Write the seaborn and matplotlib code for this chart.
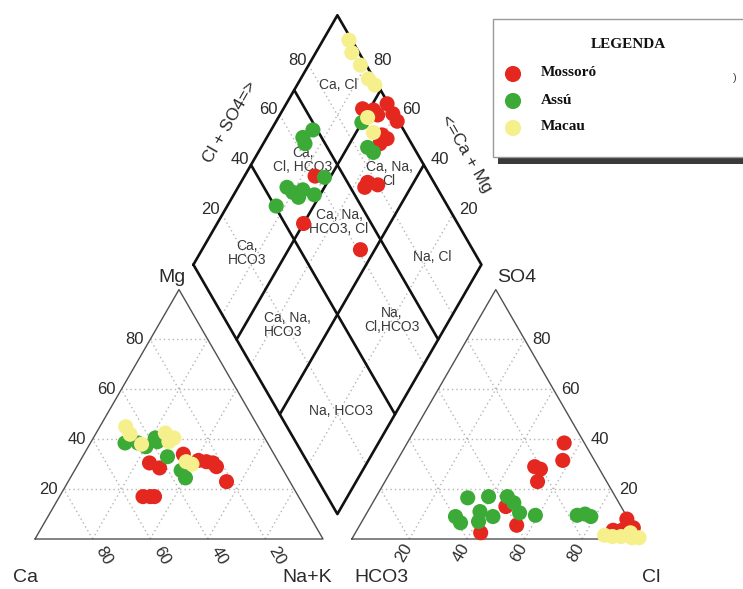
import numpy as np
import pandas as pd
import matplotlib
matplotlib.use("Agg")
import matplotlib.pyplot as plt
import seaborn as sns
from matplotlib.patches import Rectangle

sns.set_theme(style="white")
plt.rcParams["font.family"] = ["Liberation Sans", "DejaVu Sans"]

# ---------------- data (percentages) ----------------
SERIES = ["Mossoró", "Assú", "Macau"]
COLORS = {"Mossoró": "#e4281f", "Assú": "#3caa36", "Macau": "#f5f08c"}

# cation triangle: (Mg %, Na+K %)
cation_mossoro = [(30.5, 24.5), (28.5, 29), (34, 34.5), (31.5, 41), (31, 44), (30.5, 46.5),
                  (29, 48.5), (23, 55), (17, 29), (17, 31.5), (17, 33)]
cation_assu = [(38.5, 12), (38.5, 16.5), (37, 20), (40.5, 21.5), (39, 23), (33, 29.5),
               (27.5, 37), (24.5, 40)]
cation_macau = [(45, 9), (42, 12), (38, 18), (42.5, 24), (39, 27), (40.5, 28), (31, 37), (30, 39.5)]

# anion triangle: (SO4 %, Cl %)
anion_mossoro = [(38.5, 54.5), (31.5, 57.5), (29, 49), (28, 51.5), (23, 53), (13, 47), (5.5, 54.5),
                 (2.5, 43.5), (8, 91.5), (3.5, 89), (3.5, 92), (4.5, 95.5)]
anion_assu = [(16.5, 32), (17, 39), (17, 45.5), (14.5, 49), (10.5, 53), (9.5, 59), (11, 39),
              (7, 40.5), (9, 44.5), (9, 31.5), (6.5, 34.5), (9.5, 73.5), (9, 78.5), (10, 76)]
anion_macau = [(1.5, 87), (1, 90), (2.5, 95.5), (0.5, 99.5), (0.5, 97), (1, 93)]

# diamond: (Na+K %, Cl+SO4 %)
diamond_mossoro = [(27.5, 90), (31.5, 93.5), (34, 94), (35, 99.5), (39, 99.5), (42, 99.5),
                   (39.5, 91.5), (42, 92.5), (40.5, 89), (44, 77), (48, 80), (44, 75),
                   (24.5, 60), (30, 46.5), (55, 61)]
diamond_assu = [(30, 87), (37, 84), (40, 85), (12.5, 63.5), (14.5, 68.5), (14.5, 63), (17, 48),
                (20, 49), (23, 53), (23, 50), (28, 56), (28, 63), (17, 40.5)]
diamond_macau = [(9, 99), (12.5, 97.5), (18, 98), (23.5, 98), (27, 99), (31, 90), (36, 89)]

TICKS = [20, 40, 60, 80]
DIAMOND_SPLITS_NA = [30, 60]
DIAMOND_SPLITS_ANION = [40, 70]
REGIONS = [
    ("Ca, Cl", (338, 85), "center"),
    ("Ca,\nCl, HCO3", (303, 160), "center"),
    ("Ca, Na,\nCl", (389, 174), "center"),
    ("Ca,\nHCO3", (247, 253), "center"),
    ("Ca, Na,\nHCO3, Cl", (339, 222), "center"),
    ("Na, Cl", (432, 257), "center"),
    ("Ca, Na,\nHCO3", (287, 325), "left"),
    ("Na,\nCl,HCO3", (392, 320), "center"),
    ("Na, HCO3", (341, 411), "center"),
]

# ---------------- geometry ----------------
SQ = np.sqrt(3) / 2
GAP = 0.1

def cation_xy(mg, na):
    return na / 100 + 0.5 * mg / 100, SQ * mg / 100

def anion_xy(so4, cl):
    return 1 + GAP + cl / 100 + 0.5 * so4 / 100, SQ * so4 / 100

def diamond_xy(na, an):
    return (na / 100 + 1 + GAP + an / 100) / 2, (1 + GAP + an / 100 - na / 100) * SQ

fig = plt.figure(figsize=(7.43, 5.89), dpi=100)
ax = fig.add_axes([0, 0, 1, 1])
X0, Y0, S = 35.0, 539.0, 288.0

def pix(xp, yp):
    return (xp - X0) / S, (Y0 - yp) / S

def off(p, dx, dy):
    return p[0] + dx / S, p[1] - dy / S

def seg(p, q, **kw):
    ax.plot([p[0], q[0]], [p[1], q[1]], **kw)

DOT = dict(color="#b5b5b5", lw=1.0, ls=(0, (1, 2.2)), zorder=1)
EDGE = dict(color="#505050", lw=1.0, zorder=2, solid_capstyle="round")
THICK = dict(color="#111111", lw=1.9, zorder=2, solid_capstyle="round")

# dotted grids
for k in TICKS:
    seg(cation_xy(k, 0), cation_xy(k, 100 - k), **DOT)
    seg(cation_xy(0, k), cation_xy(100 - k, k), **DOT)
    seg(cation_xy(0, 100 - k), cation_xy(100 - k, 0), **DOT)
    seg(anion_xy(k, 0), anion_xy(k, 100 - k), **DOT)
    seg(anion_xy(0, k), anion_xy(100 - k, k), **DOT)
    seg(anion_xy(0, 100 - k), anion_xy(100 - k, 0), **DOT)
    seg(diamond_xy(k, 0), diamond_xy(k, 100), **DOT)
    seg(diamond_xy(0, k), diamond_xy(100, k), **DOT)

# triangle outlines
ct = [cation_xy(0, 0), cation_xy(0, 100), cation_xy(100, 0), cation_xy(0, 0)]
at = [anion_xy(0, 0), anion_xy(0, 100), anion_xy(100, 0), anion_xy(0, 0)]
ax.plot([p[0] for p in ct], [p[1] for p in ct], **EDGE)
ax.plot([p[0] for p in at], [p[1] for p in at], **EDGE)

# diamond outline and classification lines
dm = [diamond_xy(0, 0), diamond_xy(100, 0), diamond_xy(100, 100), diamond_xy(0, 100), diamond_xy(0, 0)]
ax.plot([p[0] for p in dm], [p[1] for p in dm], **THICK)
for n in DIAMOND_SPLITS_NA:
    seg(diamond_xy(n, 0), diamond_xy(n, 100), **THICK)
for a in DIAMOND_SPLITS_ANION:
    seg(diamond_xy(0, a), diamond_xy(100, a), **THICK)

# ---------------- points ----------------
rows = []
groups = {
    "Mossoró": (cation_mossoro, anion_mossoro, diamond_mossoro),
    "Assú": (cation_assu, anion_assu, diamond_assu),
    "Macau": (cation_macau, anion_macau, diamond_macau),
}
for name in SERIES:
    cat, an, dia = groups[name]
    for mg, na in cat:
        x, y = cation_xy(mg, na)
        rows.append((x, y, name))
    for so4, cl in an:
        x, y = anion_xy(so4, cl)
        rows.append((x, y, name))
    for na, a in dia:
        x, y = diamond_xy(na, a)
        rows.append((x, y, name))
df = pd.DataFrame(rows, columns=["x", "y", "Local"])
sns.scatterplot(data=df, x="x", y="y", hue="Local", hue_order=SERIES, palette=COLORS,
                s=118, edgecolor="none", linewidth=0, legend=False, ax=ax, zorder=4)
ax.set_xlim(-X0 / S, (743 - X0) / S)
ax.set_ylim(-(589 - Y0) / S, Y0 / S)
ax.set_axis_off()

# ---------------- text ----------------
TC = "#2b2b2b"
TFS = 12
for k in TICKS:
    ax.text(*off(cation_xy(k, 0), -6, 0), str(k), ha="right", va="center", fontsize=TFS, color=TC)
    ax.text(*off(cation_xy(0, 100 - k), 11, 17), str(k), ha="center", va="center",
            rotation=-60, fontsize=TFS, color=TC)
    ax.text(*off(anion_xy(0, k), -6, 14), str(k), ha="center", va="center",
            rotation=60, fontsize=TFS, color=TC)
    ax.text(*off(anion_xy(k, 100 - k), 8, 0), str(k), ha="left", va="center", fontsize=TFS, color=TC)
    ax.text(*off(diamond_xy(0, k), -2, -5), str(k), ha="right", va="center", fontsize=TFS, color=TC)
    ax.text(*off(diamond_xy(100 - k, 100), 7, -5), str(k), ha="left", va="center", fontsize=TFS, color=TC)

CFS = 14
ax.text(*pix(172, 277), "Mg", ha="center", va="center", fontsize=CFS, color=TC)
ax.text(*pix(25, 578), "Ca", ha="center", va="center", fontsize=CFS, color=TC)
ax.text(*pix(307, 578), "Na+K", ha="center", va="center", fontsize=CFS, color=TC)
ax.text(*pix(517, 277), "SO4", ha="center", va="center", fontsize=CFS, color=TC)
ax.text(*pix(381, 578), "HCO3", ha="center", va="center", fontsize=CFS, color=TC)
ax.text(*pix(651, 578), "Cl", ha="center", va="center", fontsize=CFS, color=TC)

ax.text(*pix(230, 122), "Cl + SO4=>", ha="center", va="center", rotation=60, fontsize=12.5, color=TC)
ax.text(*pix(466, 154), "<=Ca + Mg", ha="center", va="center", rotation=-60, fontsize=12.5, color=TC)

for label, (xp, yp), al in REGIONS:
    ax.text(*pix(xp, yp), label, ha="center", va="center", multialignment=al,
            fontsize=10, color="#3a3a3a", linespacing=1.05, zorder=3)

# ---------------- legend ----------------
x1, y1 = pix(498, 164)
x2, y2 = pix(746, 156)
ax.add_patch(Rectangle((x1, y1), x2 - x1, y2 - y1, facecolor="#3a3a3a", edgecolor="none", zorder=5))
bx1, by1 = pix(493, 157)
bx2, by2 = pix(746, 19)
ax.add_patch(Rectangle((bx1, by1), bx2 - bx1, by2 - by1, facecolor="white",
                       edgecolor="#9a9a9a", lw=1.0, zorder=6))
SERIF = ["Liberation Serif", "DejaVu Serif"]
ax.text(*pix(628, 44), "LEGENDA", ha="center", va="center", fontsize=11, fontweight="bold",
        family=SERIF, color="#111111", zorder=7)
for name, yp in zip(SERIES, [74, 101, 128]):
    ax.scatter(*pix(513, yp), s=135, color=COLORS[name], edgecolor="none", zorder=7)
    ax.text(*pix(541, yp - 1), name, ha="left", va="center", fontsize=11, fontweight="bold",
            family=SERIF, color="#111111", zorder=7)
ax.text(*pix(735, 78), ")", ha="center", va="center", fontsize=8, color="#444444", zorder=7)

fig.savefig("out.png", dpi=100)
